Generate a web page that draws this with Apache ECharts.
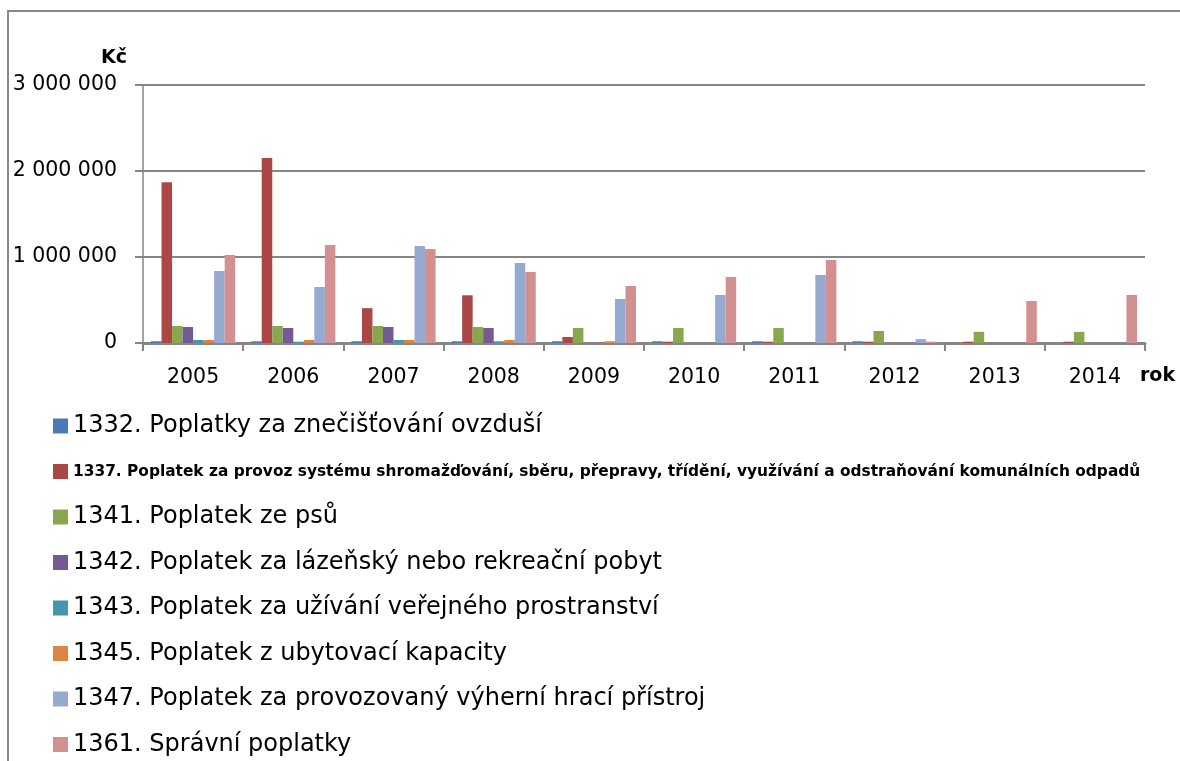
<!DOCTYPE html>
<html>
<head>
<meta charset="utf-8">
<title>Místní poplatky 2005–2014</title>
<script src="https://cdn.jsdelivr.net/npm/echarts@6/dist/echarts.min.js"></script>
<style>
  html, body { margin: 0; padding: 0; background: #ffffff; }
  #chart { width: 1180px; height: 761px; }
</style>
</head>
<body>
<div id="chart"></div>
<script>
// Years on the category axis
const years = ['2005', '2006', '2007', '2008', '2009', '2010', '2011', '2012', '2013', '2014'];

// Y axis ticks (Kč)
const yTicks = [0, 1000000, 2000000, 3000000];

// Series names
const seriesNames = [
  '1332. Poplatky za znečišťování ovzduší',
  '1337. Poplatek za provoz systému shromažďování, sběru, přepravy, třídění, využívání a odstraňování komunálních odpadů',
  '1341. Poplatek ze psů',
  '1342. Poplatek za lázeňský nebo rekreační pobyt',
  '1343. Poplatek za užívání veřejného prostranství',
  '1345. Poplatek z ubytovací kapacity',
  '1347. Poplatek za provozovaný výherní hrací přístroj',
  '1361. Správní poplatky'
];

// Yearly revenue per fee, Kč
const air1332         = [20000, 20000, 20000, 20000, 20000, 20000, 20000, 20000, 0, 0];
const waste1337       = [1870000, 2150000, 405000, 555000, 70000, 15000, 15000, 15000, 15000, 15000];
const dogs1341        = [198000, 198000, 198000, 186000, 175000, 175000, 175000, 140000, 130000, 130000];
const spa1342         = [186000, 174000, 186000, 174000, 0, 0, 0, 0, 0, 0];
const publicSpace1343 = [35000, 15000, 35000, 20000, 0, 0, 0, 0, 0, 0];
const lodging1345     = [35000, 35000, 35000, 35000, 20000, 0, 0, 0, 0, 0];
const gaming1347      = [837000, 651000, 1128000, 930000, 512000, 558000, 791000, 45000, 0, 0];
const admin1361       = [1023000, 1140000, 1093000, 826000, 663000, 767000, 965000, 15000, 488000, 558000];

const seriesValues = [air1332, waste1337, dogs1341, spa1342, publicSpace1343, lodging1345, gaming1347, admin1361];

const palette = ['#4A7AB4', '#AB4745', '#8AA64E', '#735A92', '#4398AF', '#DC8441', '#95A9D1', '#D29190'];

const FONT = 'DejaVu Sans';
const GREY = '#868686';

function formatKc(v) {
  return String(v).replace(/\B(?=(\d{3})+(?!\d))/g, ' ');
}

const chart = echarts.init(document.getElementById('chart'), null, { renderer: 'canvas' });

chart.setOption({
  animation: false,
  backgroundColor: '#ffffff',
  color: palette,
  graphic: [{
    type: 'rect',
    shape: { x: 8, y: 11, width: 1300, height: 900 },
    style: { fill: 'none', stroke: '#888888', lineWidth: 2 },
    silent: true,
    z: -10
  }],
  grid: { left: 143, right: 35, top: 85, bottom: 418, containLabel: false },
  legend: {
    orient: 'vertical',
    left: 53,
    top: 413,
    padding: 0,
    itemWidth: 15,
    itemHeight: 15,
    itemGap: 19.5,
    icon: 'rect',
    selectedMode: false,
    data: seriesNames,
    formatter: function (name) {
      return name.indexOf('1337') === 0 ? '{s|' + name + '}' : '{n|' + name + '}';
    },
    textStyle: {
      color: '#000000',
      lineHeight: 26,
      rich: {
        n: { fontFamily: FONT, fontSize: 24, lineHeight: 26, height: 26, color: '#000000' },
        s: { fontFamily: FONT, fontSize: 15.4, fontWeight: 'bold', lineHeight: 26, height: 26, color: '#000000' }
      }
    }
  },
  xAxis: {
    type: 'category',
    data: years,
    name: 'rok',
    nameLocation: 'end',
    nameGap: -5,
    nameTextStyle: {
      fontFamily: FONT, fontSize: 19, fontWeight: 'bold', color: '#000000',
      align: 'left', verticalAlign: 'top', padding: [24, 0, 0, 0]
    },
    axisLine: { show: true, lineStyle: { color: GREY, width: 3 } },
    axisTick: { show: true, alignWithLabel: false, length: 8, lineStyle: { color: GREY, width: 2 } },
    axisLabel: { fontFamily: FONT, fontSize: 20.5, color: '#000000', margin: 24 },
    splitLine: { show: false }
  },
  yAxis: {
    type: 'value',
    min: yTicks[0],
    max: yTicks[yTicks.length - 1],
    interval: yTicks[1] - yTicks[0],
    name: 'Kč',
    nameLocation: 'end',
    nameGap: 17,
    nameTextStyle: {
      fontFamily: FONT, fontSize: 19, fontWeight: 'bold', color: '#000000',
      align: 'right', padding: [0, 16, 0, 0]
    },
    axisLine: { show: true, lineStyle: { color: GREY, width: 1.5 } },
    axisTick: { show: true, length: 8, lineStyle: { color: GREY, width: 2 } },
    axisLabel: { fontFamily: FONT, fontSize: 20.5, color: '#000000', margin: 26, formatter: formatKc },
    splitLine: { show: true, lineStyle: { color: GREY, width: 2 } }
  },
  series: seriesNames.map(function (name, i) {
    return {
      name: name,
      type: 'bar',
      data: seriesValues[i],
      barGap: '0%',
      barCategoryGap: '16%',
      itemStyle: { color: palette[i] }
    };
  })
});
</script>
</body>
</html>
